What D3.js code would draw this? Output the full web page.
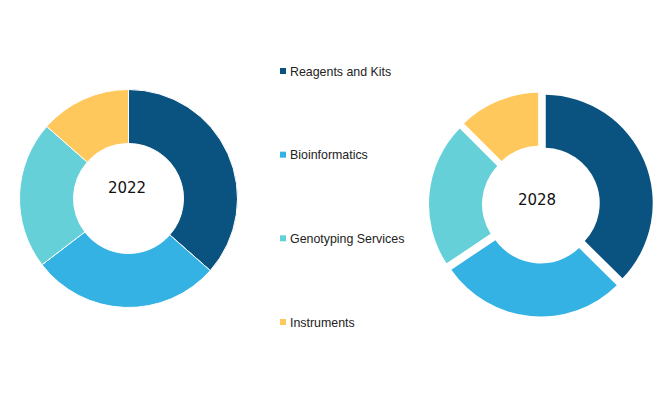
<!DOCTYPE html>
<html><head><meta charset="utf-8">
<script src="https://cdn.jsdelivr.net/npm/d3@7"></script>
<style>html,body{margin:0;padding:0;background:#fff;}svg{display:block;}</style>
</head><body>
<svg id="chart" width="658" height="398"></svg>
<script>
const categories = ["Reagents and Kits", "Bioinformatics", "Genotyping Services", "Instruments"];
const colors = ["#0a5380", "#35b2e4", "#65d0d8", "#ffc85c"];
const years = ["2022", "2028"];
const values2022 = [36.5, 28.1, 21.9, 13.5];
const values2028 = [37.4, 28.2, 21.9, 12.5];

const svg = d3.select("#chart");
const color = d3.scaleOrdinal().domain(categories).range(colors);
const pie = d3.pie().sort(null).value(d => d.v);

function donut(values, cx, cy, rOuter, rInner, pad, explode, strokeW, label, tdx, tdy) {
  const g = svg.append("g").attr("transform", `translate(${cx},${cy})`);
  const arc = d3.arc().innerRadius(rInner).outerRadius(rOuter)
    .padAngle(pad).padRadius(rOuter);
  const data = pie(categories.map((c, i) => ({c, v: values[i]})));
  g.selectAll("path").data(data).join("path")
    .attr("transform", d => {
      const a = (d.startAngle + d.endAngle) / 2;
      return `translate(${explode * Math.sin(a)},${-explode * Math.cos(a)})`;
    })
    .attr("d", arc)
    .attr("fill", d => color(d.data.c))
    .attr("stroke", "#fff")
    .attr("stroke-width", strokeW);
  g.append("text").attr("x", tdx).attr("y", tdy)
    .attr("text-anchor", "middle").attr("dominant-baseline", "central")
    .attr("font-family", "DejaVu Sans, sans-serif").attr("font-size", 15)
    .attr("fill", "#111").text(label);
}

donut(values2022, 128.5, 198.5, 109, 55, 0, 0, 1, years[0], -1.5, -10.5);
donut(values2028, 541, 204.5, 108.5, 55.5, 0.028, 3.5, 0, years[1], -4, -4.5);

const legendY = d3.scalePoint().domain(categories).range([71, 322]);
const lg = svg.append("g");
const items = lg.selectAll("g").data(categories).join("g")
  .attr("transform", d => `translate(280,${legendY(d)})`);
items.append("rect").attr("x", 0).attr("y", -3).attr("width", 6).attr("height", 6)
  .attr("fill", d => color(d));
items.append("text").attr("x", 10).attr("y", 4.6)
  .attr("font-family", "Liberation Sans, Arial, sans-serif").attr("font-size", 12.4)
  .attr("fill", "#222").text(d => d);
</script>
</body></html>
